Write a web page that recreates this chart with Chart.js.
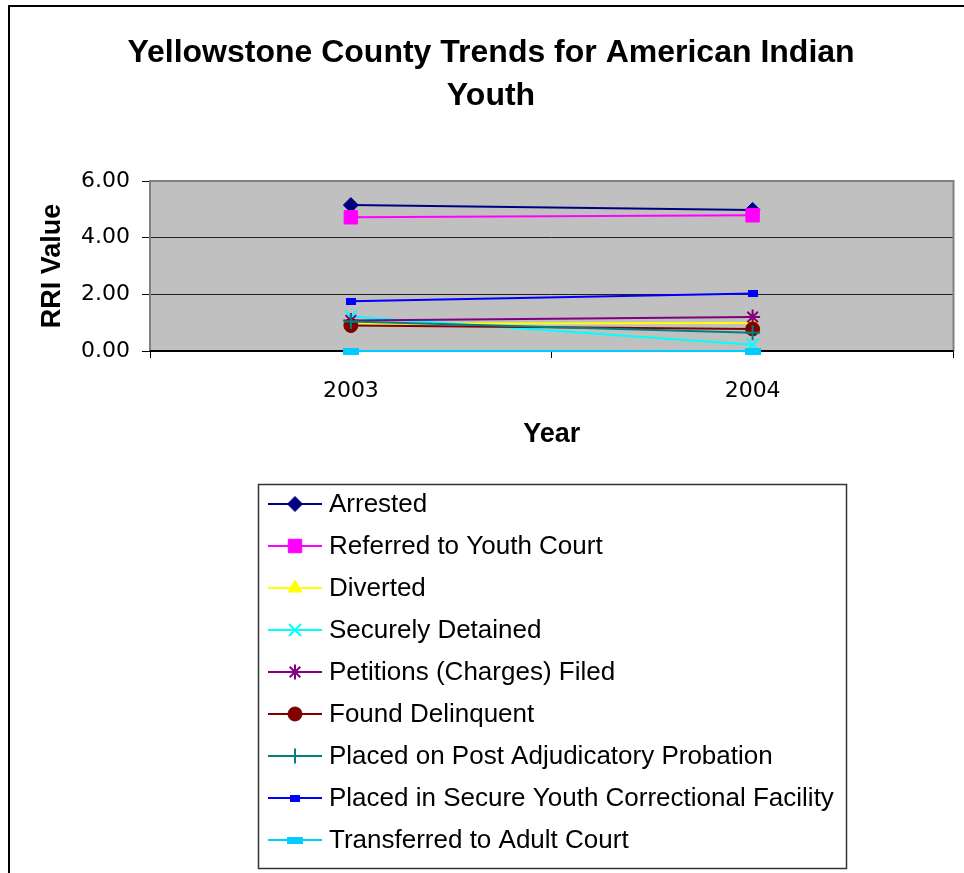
<!DOCTYPE html>
<html>
<head>
<meta charset="utf-8">
<script src="https://cdn.jsdelivr.net/npm/chart.js@4/dist/chart.umd.min.js"></script>
<style>
  html, body { margin: 0; padding: 0; background: #fff; }
  canvas { display: block; }
</style>
</head>
<body>
<canvas id="chart" width="964" height="873"></canvas>
<script>
const years = ["2003", "2004"];

const arrested = [5.15, 4.98];
const referred = [4.72, 4.79];
const diverted = [0.96, 0.99];
const securelyDetained = [1.22, 0.22];
const petitionsFiled = [1.08, 1.20];
const foundDelinquent = [0.90, 0.78];
const postProbation = [1.04, 0.64];
const secureFacility = [1.76, 2.03];
const transferred = [0.00, 0.00];

const titleLines = ["Yellowstone County Trends for American Indian", "Youth"];
const yTicks = [0, 2, 4, 6];

const FONT = "'Liberation Sans', Arial, Helvetica, sans-serif";
const NUM_FONT = "'DejaVu Sans', 'Liberation Sans', sans-serif";

// small bar shaped markers used by the last two series
function barMarker(w, h, color) {
  const c = document.createElement("canvas");
  c.width = w;
  c.height = h;
  const g = c.getContext("2d");
  g.fillStyle = color;
  g.fillRect(0, 0, w, h);
  return c;
}

const series = [
  { label: "Arrested", data: arrested, color: "#000080", style: "rectRot", radius: 7.5 },
  { label: "Referred to Youth Court", data: referred, color: "#FF00FF", style: "rect", radius: 9.5 },
  { label: "Diverted", data: diverted, color: "#FFFF00", style: "triangle", radius: 8 },
  { label: "Securely Detained", data: securelyDetained, color: "#00FFFF", style: "crossRot", radius: 8.5 },
  { label: "Petitions (Charges) Filed", data: petitionsFiled, color: "#800080", style: "star", radius: 7.5 },
  { label: "Found Delinquent", data: foundDelinquent, color: "#800000", style: "circle", radius: 7 },
  { label: "Placed on Post Adjudicatory Probation", data: postProbation, color: "#008080", style: "cross", radius: 7.5 },
  { label: "Placed in Secure Youth Correctional Facility", data: secureFacility, color: "#0000FF", style: barMarker(10, 7, "#0000FF"), radius: 5 },
  { label: "Transferred to Adult Court", data: transferred, color: "#00CCFF", style: barMarker(16, 7, "#00CCFF"), radius: 8 },
];

const datasets = series.map((s, i) => {
  const lineOnly = s.style === "crossRot" || s.style === "star" || s.style === "cross";
  return {
    label: s.label,
    data: s.data,
    borderColor: s.color,
    backgroundColor: s.color,
    borderWidth: 2,
    pointStyle: s.style,
    pointRadius: s.radius,
    pointBackgroundColor: s.color,
    pointBorderColor: s.color,
    pointBorderWidth: lineOnly ? 2 : 1,
    clip: false,
    order: series.length - i, // later series on top, like the original
  };
});

// title, outer frame, plot background and the boxed legend
const decorations = {
  id: "decorations",
  beforeDraw(chart) {
    const { ctx, chartArea: a } = chart;
    ctx.save();
    ctx.fillStyle = "#C0C0C0";
    ctx.fillRect(a.left, a.top, a.right - a.left, a.bottom - a.top);

    ctx.strokeStyle = "#000";
    ctx.lineWidth = 2;
    ctx.beginPath();
    ctx.moveTo(9, 873);
    ctx.lineTo(9, 6);
    ctx.lineTo(964, 6);
    ctx.stroke();

    ctx.fillStyle = "#000";
    ctx.font = "bold 32px " + FONT;
    ctx.textAlign = "center";
    ctx.textBaseline = "middle";
    titleLines.forEach((t, i) => ctx.fillText(t, 491, 53 + i * 43));
    ctx.restore();
  },
  beforeDatasetsDraw(chart) {
    const { ctx, chartArea: a } = chart;
    ctx.save();
    ctx.strokeStyle = "#808080";
    ctx.lineWidth = 2;
    ctx.beginPath();
    ctx.moveTo(a.left, a.bottom);
    ctx.lineTo(a.left, a.top);
    ctx.lineTo(a.right, a.top);
    ctx.lineTo(a.right, a.bottom);
    ctx.stroke();
    ctx.strokeStyle = "#000";
    ctx.beginPath();
    ctx.moveTo(a.left, a.bottom);
    ctx.lineTo(a.right, a.bottom);
    ctx.stroke();
    ctx.restore();
  },
  afterDraw(chart) {
    const { ctx } = chart;
    const box = { left: 258, top: 484, right: 846, bottom: 868 };
    ctx.save();
    ctx.strokeStyle = "#333";
    ctx.lineWidth = 1.5;
    ctx.strokeRect(box.left + 0.5, box.top + 0.5, box.right - box.left, box.bottom - box.top);

    ctx.font = "26px " + FONT;
    ctx.textAlign = "left";
    ctx.textBaseline = "middle";
    chart.data.datasets.forEach((ds, i) => {
      const y = 504 + i * 42;
      ctx.strokeStyle = ds.borderColor;
      ctx.lineWidth = 2;
      ctx.beginPath();
      ctx.moveTo(268, y);
      ctx.lineTo(322, y);
      ctx.stroke();

      ctx.fillStyle = ds.pointBackgroundColor;
      ctx.strokeStyle = ds.pointBorderColor;
      ctx.lineWidth = ds.pointBorderWidth;
      Chart.helpers.drawPoint(ctx, {
        pointStyle: ds.pointStyle,
        radius: ds.pointRadius,
        borderWidth: ds.pointBorderWidth,
        rotation: 0,
      }, 295, y);

      ctx.fillStyle = "#000";
      ctx.fillText(ds.label, 329, y + 1);
    });
    ctx.restore();
  },
};

new Chart(document.getElementById("chart"), {
  type: "line",
  data: { labels: years, datasets },
  plugins: [decorations],
  options: {
    responsive: false,
    animation: false,
    events: [],
    layout: { padding: { top: 181, left: 0, right: 10, bottom: 422 } },
    plugins: {
      legend: { display: false },
      title: { display: false },
      tooltip: { enabled: false },
    },
    elements: { line: { tension: 0 } },
    scales: {
      x: {
        offset: true,
        grid: { offset: true, drawOnChartArea: false, tickLength: 7, color: "#000", tickWidth: 1 },
        border: { display: false },
        ticks: { color: "#000", font: { family: NUM_FONT, size: 22 }, padding: 20 },
        title: {
          display: true,
          text: "Year",
          color: "#000",
          font: { family: FONT, size: 27, weight: "bold" },
          padding: { top: 0, bottom: 0 },
        },
        afterFit: (scale) => { scale.height = 100; },
      },
      y: {
        min: 0,
        max: 6,
        afterBuildTicks: (scale) => { scale.ticks = yTicks.map((v) => ({ value: v })); },
        grid: { color: "#222", lineWidth: 1, tickLength: 8, tickColor: "#000" },
        border: { display: false },
        ticks: {
          color: "#000",
          font: { family: NUM_FONT, size: 22 },
          padding: 12,
          callback: (v) => Number(v).toFixed(2),
        },
        title: {
          display: true,
          text: "RRI Value",
          color: "#000",
          font: { family: FONT, size: 27, weight: "bold" },
          padding: { top: 36, bottom: 0 },
        },
        afterFit: (scale) => { scale.width = 150; },
      },
    },
  },
});
</script>
</body>
</html>
